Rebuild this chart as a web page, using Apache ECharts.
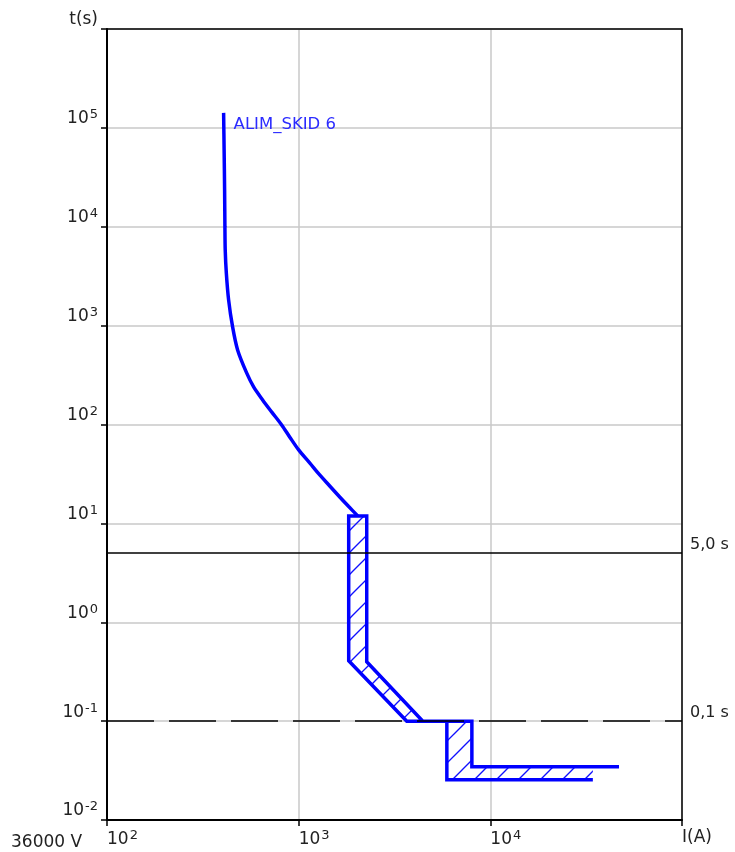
<!DOCTYPE html>
<html><head><meta charset="utf-8">
<script src="https://cdn.jsdelivr.net/npm/echarts@6/dist/echarts.min.js"></script>
<style>html,body{margin:0;padding:0;background:#fff}#c{width:735px;height:852px}</style>
</head><body><div id="c"></div>
<script>
// ---- data ----
const curveName = 'ALIM_SKID 6';
const curveI = [405.9, 408.4, 410.8, 412.3, 413.8, 419.3, 431.0, 452.2, 480.2, 535.2, 582.1, 648.6, 722.6, 815.2, 897.4, 1000, 1141.4, 1287.5, 1452.3, 1637.6, 1824.3, 2033];
const curveT = [141800, 59900, 23600, 9967, 5834, 3415, 1820, 970.6, 568.0, 332.5, 240.0, 177.3, 134.1, 99.0, 74.9, 55.3, 40.9, 30.9, 23.9, 18.5, 14.8, 11.9];
const lowerI = [1824, 1824, 3664, 5931, 5931, 34270];
const lowerT = [11.9, 0.408, 0.1, 0.1, 0.0255, 0.0255];
const upperI = [2265, 2265, 4444, 8011, 8011, 46900];
const upperT = [11.9, 0.399, 0.1, 0.1, 0.0346, 0.0346];
const refLineT = [5, 0.1];
const refLineLabels = ['5,0 s', '0,1 s'];
const xExponents = [2, 3, 4];
const xEndLabel = 'I(A)';
const yExponents = [-2, -1, 0, 1, 2, 3, 4, 5];
const yEndLabel = 't(s)';
const voltageLabel = '36000 V';

// ---- build ----
const BLUE = '#0000ff';
const FONT = 'DejaVu Sans';
const TXT = '#222';
const curveData = curveI.map((v, i) => [v, curveT[i]]).reverse();
const lowerPts = lowerI.map((v, i) => [v, lowerT[i]]);
const upperPts = upperI.map((v, i) => [v, upperT[i]]);
const outline = lowerPts.slice().reverse().concat(upperPts);
const hatchPoly = lowerPts.concat([[lowerI[lowerI.length - 1], upperT[upperT.length - 1]]])
  .concat(upperPts.slice(0, upperPts.length - 1).reverse());

const pc = document.createElement('canvas');
pc.width = 22; pc.height = 22;
const g = pc.getContext('2d');
g.strokeStyle = '#1010ff'; g.lineWidth = 1.3;
g.beginPath(); g.moveTo(0, 22); g.lineTo(22, 0); g.stroke();
g.beginPath(); g.moveTo(-2, 2); g.lineTo(2, -2); g.stroke();
g.beginPath(); g.moveTo(20, 24); g.lineTo(24, 20); g.stroke();

function expOf(v) { return Math.round(Math.log10(v)); }
const richLbl = {
  b: { fontSize: 17, fontFamily: FONT, color: TXT },
  s: { fontSize: 13, fontFamily: FONT, color: TXT, padding: [0, 0, 8, 1] }
};
const frameAxis = {
  axisLine: { show: true, lineStyle: { color: '#000', width: 1.5 } },
  axisTick: { show: false }, axisLabel: { show: false }, splitLine: { show: false }
};

const chart = echarts.init(document.getElementById('c'), null, { renderer: 'canvas' });
chart.setOption({
  animation: false,
  backgroundColor: '#fff',
  grid: { left: 107, right: 53, top: 29, bottom: 32, show: false },
  xAxis: [{
    type: 'log', logBase: 10, min: 100, max: 100000,
    axisLine: { show: true, lineStyle: { color: '#000', width: 2 } },
    axisTick: { show: true, length: 6, lineStyle: { color: '#000', width: 1.5 } },
    minorTick: { show: false },
    splitLine: { show: true, lineStyle: { color: '#c8c8c8', width: 1.5 } },
    axisLabel: {
      margin: 9, align: 'left', color: TXT, showMinLabel: true, showMaxLabel: true,
      formatter: function (v) {
        const e = expOf(v);
        if (xExponents.indexOf(e) < 0) return '{b|' + xEndLabel + '}';
        return '{b|10}{s|' + e + '}';
      },
      rich: richLbl
    }
  }, Object.assign({ type: 'log', logBase: 10, min: 100, max: 100000, position: 'top' }, frameAxis)],
  yAxis: [{
    type: 'log', logBase: 10, min: 0.01, max: 1000000,
    axisLine: { show: true, lineStyle: { color: '#000', width: 2 } },
    axisTick: { show: true, length: 6, lineStyle: { color: '#000', width: 1.5 } },
    splitLine: { show: true, lineStyle: { color: '#c8c8c8', width: 1.5 } },
    axisLabel: {
      margin: 9, color: TXT, showMinLabel: true, showMaxLabel: true,
      padding: [0, 0, 18, 0],
      formatter: function (v) {
        const e = expOf(v);
        if (yExponents.indexOf(e) < 0) return '{b|' + yEndLabel + '}';
        return '{b|10}{s|' + e + '}';
      },
      rich: richLbl
    }
  }, Object.assign({ type: 'log', logBase: 10, min: 0.01, max: 1000000, position: 'right' }, frameAxis)],
  graphic: [{
    type: 'text', left: 11, top: 834,
    style: { text: voltageLabel, fill: TXT, font: '17px "' + FONT + '"' }
  }],
  series: [
    {
      type: 'custom', z: 2, silent: true,
      data: [[lowerI[0], lowerT[0]]],
      encode: { x: 0, y: 1 },
      renderItem: function (params, api) {
        const pts = hatchPoly.map(p => api.coord(p));
        return { type: 'polygon', shape: { points: pts }, style: { fill: { image: pc, repeat: 'repeat' }, stroke: null } };
      }
    },
    {
      type: 'line', z: 3, data: outline, showSymbol: false, symbol: 'none', silent: true,
      lineStyle: { color: BLUE, width: 3.5, join: 'miter' }
    },
    {
      type: 'line', z: 4, name: curveName, data: curveData, showSymbol: false, symbol: 'none',
      smooth: 0.3, silent: true,
      lineStyle: { color: BLUE, width: 3.5 },
      endLabel: { show: true, formatter: curveName, color: '#2b2bff', fontSize: 16.5, fontFamily: FONT, offset: [2, 12] },
      markLine: {
        silent: true, symbol: 'none', animation: false,
        lineStyle: { color: '#000', width: 1.5 },
        label: {
          position: 'end', distance: 8, color: TXT,
          rich: { a: { fontSize: 16, fontFamily: FONT, color: TXT, padding: [0, 0, 16, 0] } }
        },
        data: [
          { yAxis: refLineT[0], lineStyle: { type: 'solid' }, label: { formatter: '{a|' + refLineLabels[0] + '}' } },
          { yAxis: refLineT[1], lineStyle: { type: [47, 15] }, label: { formatter: '{a|' + refLineLabels[1] + '}' } }
        ]
      }
    }
  ]
});
</script>
</body></html>
